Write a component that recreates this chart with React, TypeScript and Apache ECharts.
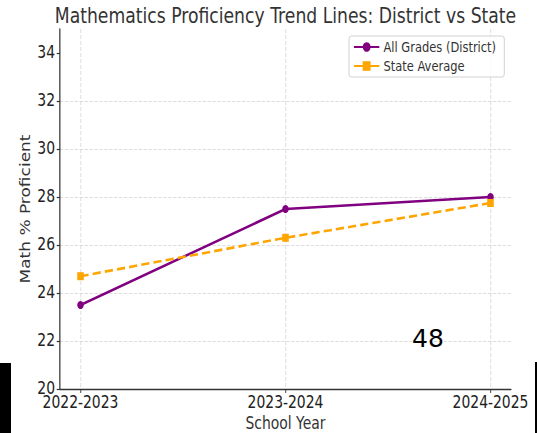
import React, { useEffect, useRef } from "react";
import * as echarts from "echarts";

const categories = ["2022-2023", "2023-2024", "2024-2025"];
const districtValues = [23.5, 27.5, 28.0];
const stateValues = [24.7, 26.3, 27.75];
const yTicks = [20, 22, 24, 26, 28, 30, 32, 34];
const xTicks = [0, 1, 2];

const W = 537;
const H = 433;
const S = 0.82;
const IW = Math.round(W / S);
const SX = W / IW;

const FONT = "DejaVu Sans";

export default function App() {
  const ref = useRef<HTMLDivElement>(null);

  useEffect(() => {
    if (!ref.current) return;
    const chart = echarts.init(ref.current, undefined, { renderer: "svg" });
    const ux = (x: number) => x / SX;
    const gridLeft = ux(60);
    const gridRight = IW - ux(511);
    const plotCenter = (gridLeft + (IW - gridRight)) / 2;

    chart.setOption({
      animation: false,
      backgroundColor: "#ffffff",
      title: {
        text: "Mathematics Proficiency Trend Lines: District vs State",
        left: plotCenter - 5,
        top: 0,
        padding: 5,
        textAlign: "center",
        textStyle: { fontFamily: FONT, fontSize: 21, fontWeight: "normal", color: "#333333" },
      },
      legend: {
        left: ux(349),
        top: 36,
        orient: "vertical",
        itemWidth: 31,
        itemHeight: 12,
        itemGap: 5,
        padding: [4, 10, 4, 5],
        borderColor: "#cccccc",
        borderWidth: 1,
        borderRadius: 3,
        backgroundColor: "rgba(255,255,255,0.85)",
        lineStyle: { type: "solid" },
        textStyle: { fontFamily: FONT, fontSize: 14, color: "#333333" },
        data: ["All Grades (District)", "State Average"],
      },
      grid: {
        left: gridLeft,
        right: gridRight,
        top: 29,
        bottom: 44,
        containLabel: false,
        outerBoundsMode: "none",
      },
      xAxis: {
        type: "value",
        min: -0.1,
        max: 2.1,
        name: "School Year",
        nameLocation: "middle",
        nameGap: 26,
        nameMoveOverlap: false,
        nameTextStyle: { fontFamily: FONT, fontSize: 17, lineHeight: 17, color: "#333333" },
        axisLine: { show: true, onZero: false, lineStyle: { color: "#333333", width: 1.3 } },
        axisTick: { show: true, length: 4, customValues: xTicks, lineStyle: { color: "#333333" } },
        axisLabel: {
          customValues: xTicks,
          margin: 5,
          fontFamily: FONT,
          fontSize: 17,
          lineHeight: 17,
          color: "#222222",
          formatter: (v: number) => categories[Math.round(v)] ?? "",
        },
        splitLine: { show: true, lineStyle: { color: "#d0d0d0", type: [4, 2], width: 0.8 } },
      },
      yAxis: {
        type: "value",
        min: 20,
        max: 35,
        interval: 2,
        name: "Math % Proficient",
        nameLocation: "middle",
        nameGap: 33,
        nameMoveOverlap: false,
        nameTextStyle: { fontFamily: FONT, fontSize: 17, lineHeight: 17, color: "#333333" },
        axisLine: { show: true, onZero: false, lineStyle: { color: "#333333", width: 1.5 } },
        axisTick: { show: true, length: 4, customValues: yTicks, lineStyle: { color: "#333333", width: 1.2 } },
        axisLabel: {
          customValues: yTicks,
          margin: 6,
          fontFamily: FONT,
          fontSize: 17,
          color: "#222222",
        },
        splitLine: { show: true, showMaxLine: false, lineStyle: { color: "#d0d0d0", type: [4, 2], width: 0.8 } },
      },
      series: [
        {
          name: "All Grades (District)",
          type: "line",
          data: categories.map((_, i) => [i, districtValues[i]]),
          symbol: "circle",
          symbolSize: 8,
          lineStyle: { color: "#800080", width: 2.6 },
          itemStyle: { color: "#800080" },
        },
        {
          name: "State Average",
          type: "line",
          data: categories.map((_, i) => [i, stateValues[i]]),
          symbol: "rect",
          symbolSize: 8,
          lineStyle: { color: "#FFA500", width: 2.6, type: [10, 5] },
          itemStyle: { color: "#FFA500" },
        },
      ],
      graphic: [
        {
          type: "text",
          x: ux(428),
          y: 338.5,
          scaleX: 1 / SX,
          style: {
            text: "48",
            fontFamily: FONT,
            fontSize: 25,
            fill: "#000000",
            textAlign: "center",
            textVerticalAlign: "middle",
          },
          z: 100,
        },
        {
          type: "rect",
          shape: { x: 0, y: 363, width: ux(11), height: H - 363 },
          style: { fill: "#000000" },
          z: 100,
        },
        {
          type: "rect",
          shape: { x: ux(535), y: 362, width: IW - ux(535), height: H - 362 },
          style: { fill: "#000000" },
          z: 100,
        },
      ],
    });
    return () => chart.dispose();
  }, []);

  return (
    <div
      style={{
        position: "fixed",
        left: 0,
        top: 0,
        width: W,
        height: H,
        overflow: "hidden",
        background: "#ffffff",
      }}
    >
      <div
        ref={ref}
        style={{
          width: IW,
          height: H,
          transform: `scaleX(${SX})`,
          transformOrigin: "0 0",
        }}
      />
    </div>
  );
}
